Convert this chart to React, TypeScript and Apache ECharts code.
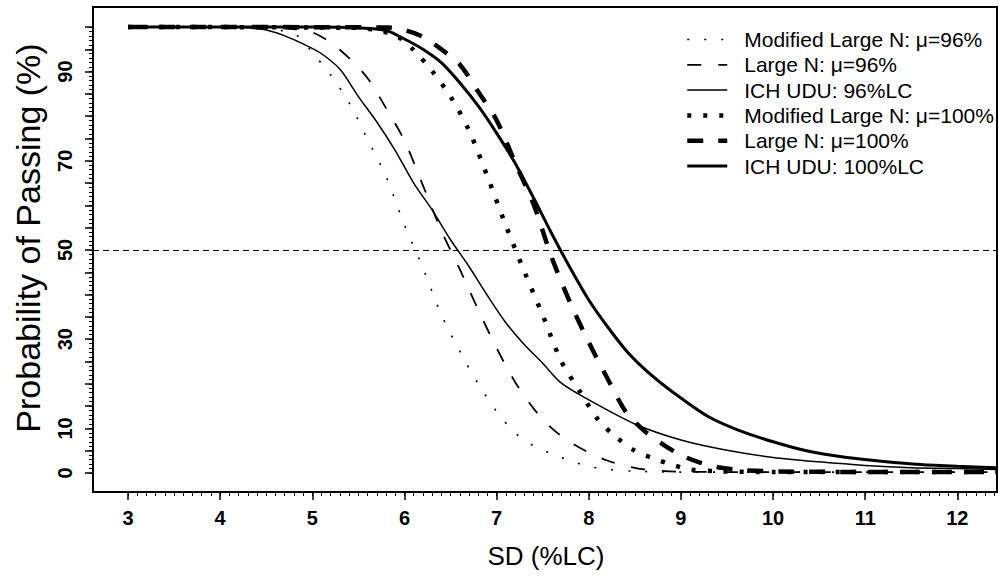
import React, { useEffect, useRef } from "react";
import * as echarts from "echarts";

// ---- data ----
const sdModLarge96 = [3.0, 4.0, 4.5, 4.8, 4.9, 5.0, 5.2, 5.4, 5.6, 5.8, 6.0, 6.2, 6.4, 6.6, 6.8, 7.0, 7.2, 7.4, 7.6, 7.8, 8.0, 8.2, 8.5, 9.0, 10.0, 12.43];
const pModLarge96 = [100, 100, 99.7, 98.5, 96.8, 94.3, 89.2, 83, 74.8, 66.5, 55.6, 46, 35.5, 27.3, 20, 13.8, 9, 6.1, 4.3, 2.7, 1.5, 0.8, 0.4, 0.2, 0.2, 0.2];

const sdLarge96 = [3.0, 4.5, 4.8, 5.0, 5.2, 5.4, 5.6, 5.8, 6.0, 6.2, 6.4, 6.6, 6.8, 7.0, 7.2, 7.4, 7.6, 7.8, 8.0, 8.2, 8.4, 8.6, 9.0, 10.0, 12.43];
const pLarge96 = [100, 100, 99.5, 98.8, 96.5, 93, 88.5, 81.8, 74.5, 64.5, 54.3, 45.7, 36.6, 28, 20.4, 14.5, 10, 6.9, 4.6, 2.8, 1.6, 0.8, 0.3, 0.2, 0.2];

const sdIch96 = [3.0, 4.0, 4.3, 4.5, 4.7, 4.9, 5.1, 5.3, 5.5, 5.7, 5.9, 6.1, 6.3, 6.5, 6.7, 6.9, 7.1, 7.3, 7.5, 7.7, 8.0, 8.5, 9.0, 9.5, 10.0, 10.5, 11.0, 11.5, 12.0, 12.43];
const pIch96 = [100, 100, 99.8, 99.3, 98, 96.2, 94, 90.5, 84.4, 78.7, 72.3, 65, 59, 52.3, 46.3, 39.8, 33.7, 28.8, 24.6, 20.2, 16.4, 11, 7.4, 5.1, 3.5, 2.5, 1.7, 1.2, 1.0, 0.8];

const sdModLarge100 = [3.0, 5.5, 5.7, 5.9, 6.1, 6.3, 6.5, 6.7, 6.9, 7.1, 7.3, 7.5, 7.7, 7.9, 8.1, 8.3, 8.5, 8.7, 8.9, 9.1, 9.4, 10.0, 12.43];
const pModLarge100 = [100, 99.8, 99.2, 98.2, 94.8, 90.1, 84.4, 76.8, 66.5, 55.5, 45.2, 35.4, 25.1, 18.4, 12, 8, 5, 3.3, 1.9, 0.8, 0.4, 0.2, 0.2];

const sdLarge100 = [3.0, 5.8, 6.0, 6.2, 6.4, 6.6, 6.8, 7.0, 7.2, 7.4, 7.6, 7.8, 8.0, 8.2, 8.4, 8.6, 8.8, 9.0, 9.2, 9.4, 9.7, 10.2, 12.43];
const pLarge100 = [100, 99.9, 99.3, 97.8, 95, 91.6, 85.5, 79.1, 69.6, 60.3, 48.2, 38.1, 29.3, 21.3, 13.8, 9.5, 6.5, 4, 2.4, 1.3, 0.6, 0.3, 0.2];

const sdIch100 = [3.0, 5.0, 5.5, 5.8, 6.0, 6.2, 6.4, 6.6, 6.8, 7.0, 7.2, 7.4, 7.6, 7.8, 8.0, 8.2, 8.4, 8.6, 8.8, 9.0, 9.3, 9.6, 10.0, 10.4, 10.8, 11.2, 11.6, 12.0, 12.43];
const pIch100 = [100, 100, 99.8, 99.2, 97.3, 95, 92, 87.5, 82.3, 76.2, 69.5, 61.7, 53.6, 45.9, 38.8, 32.9, 27.6, 23.4, 19.9, 16.8, 12.6, 9.8, 7.0, 4.8, 3.5, 2.6, 1.9, 1.5, 1.2];

const seriesNames = [
  "Modified Large N: \u03bc=96%",
  "Large N: \u03bc=96%",
  "ICH UDU: 96%LC",
  "Modified Large N: \u03bc=100%",
  "Large N: \u03bc=100%",
  "ICH UDU: 100%LC",
];

const xTickLabels = [3, 4, 5, 6, 7, 8, 9, 10, 11, 12];
const yTickLabels = [0, 10, 30, 50, 70, 90];
const referenceLevel = 50;

const zip = (xs: number[], ys: number[]) => xs.map((x, i) => [x, ys[i]]);

export default function App() {
  const ref = useRef<HTMLDivElement>(null);

  useEffect(() => {
    document.body.style.margin = "0";
    const chart = echarts.init(ref.current!, null, { renderer: "svg" });

    const xMinorTicks: number[] = [];
    for (let i = 30; i <= 124; i++) xMinorTicks.push(i / 10);
    const yMajorTicks: number[] = [];
    for (let i = 0; i <= 100; i += 5) yMajorTicks.push(i);
    const yMinorTicks: number[] = [];
    for (let i = 0; i <= 100; i++) yMinorTicks.push(i);

    const tickFont = '"Liberation Sans Narrow", "Arial Narrow", "Liberation Sans", Arial, sans-serif';
    const textFont = '"Liberation Sans", Arial, sans-serif';
    const xMin = 2.62, xMax = 12.43, yMin = -4.26, yMax = 104.48;
    const clear = "rgba(0,0,0,0)";

    const styles: any[] = [
      { width: 1.6, type: [2, 15] },
      { width: 1.8, type: [14, 17] },
      { width: 1.5, type: "solid" },
      { width: 4.5, type: [4, 12] },
      { width: 4.5, type: [16, 15] },
      { width: 3, type: "solid" },
    ];
    const dataSets = [
      zip(sdModLarge96, pModLarge96),
      zip(sdLarge96, pLarge96),
      zip(sdIch96, pIch96),
      zip(sdModLarge100, pModLarge100),
      zip(sdLarge100, pLarge100),
      zip(sdIch100, pIch100),
    ];

    const series: any[] = dataSets.map((d, i) => ({
      name: seriesNames[i],
      type: "line",
      data: d,
      xAxisIndex: 0,
      yAxisIndex: 0,
      symbol: "none",
      smooth: 0.3,
      lineStyle: { color: "#000", width: styles[i].width, type: styles[i].type },
      itemStyle: { color: clear, borderColor: clear, borderWidth: 0 },
    }));
    series[0].markLine = {
      silent: true,
      symbol: ["none", "none"],
      label: { show: false },
      lineStyle: { color: "#000", width: 1.2, type: [6, 4] },
      data: [{ yAxis: referenceLevel }],
    };

    chart.setOption({
      animation: false,
      backgroundColor: "#fff",
      grid: { left: 93, right: 2, top: 7, bottom: 85, show: true, borderColor: "#000", borderWidth: 2, containLabel: false },
      legend: {
        orient: "vertical",
        left: 680,
        top: 24,
        itemWidth: 40,
        itemHeight: 14,
        itemGap: 4.3,
        data: seriesNames,
        itemStyle: { opacity: 0 },
        lineStyle: { width: "inherit" },
        textStyle: { fontFamily: textFont, fontSize: 21, color: "#000", padding: [0, 0, 0, 12] },
      },
      xAxis: [
        {
          type: "value", min: xMin, max: xMax, position: "bottom",
          axisLine: { show: true, onZero: false, lineStyle: { color: "#000", width: 2 } },
          axisTick: { show: true, customValues: xTickLabels, length: 8, lineStyle: { color: "#000", width: 1.5 } },
          axisLabel: { customValues: xTickLabels, margin: 16, fontSize: 20, fontWeight: "bold", color: "#000", fontFamily: tickFont },
          splitLine: { show: false },
        },
        {
          type: "value", min: xMin, max: xMax, position: "bottom",
          axisLine: { show: true, onZero: false, lineStyle: { color: clear, width: 0 } },
          axisTick: { show: true, customValues: xMinorTicks, length: 4, lineStyle: { color: "#000", width: 1 } },
          axisLabel: { show: true, customValues: xTickLabels, color: clear, formatter: () => "" },
          splitLine: { show: false },
        },
      ],
      yAxis: [
        {
          type: "value", min: yMin, max: yMax, position: "left",
          axisLine: { show: true, onZero: false, lineStyle: { color: "#000", width: 2 } },
          axisTick: { show: true, customValues: yMajorTicks, length: 8, lineStyle: { color: "#000", width: 1.5 } },
          axisLabel: { customValues: yTickLabels, rotate: 90, margin: 18, fontSize: 20, fontWeight: "bold", color: "#000", fontFamily: tickFont },
          splitLine: { show: false },
        },
        {
          type: "value", min: yMin, max: yMax, position: "left",
          axisLine: { show: true, onZero: false, lineStyle: { color: clear, width: 0 } },
          axisTick: { show: true, customValues: yMinorTicks, length: 4, lineStyle: { color: "#000", width: 1 } },
          axisLabel: { show: true, customValues: yTickLabels, color: clear, formatter: () => "" },
          splitLine: { show: false },
        },
      ],
      graphic: [
        {
          type: "text", x: 546, y: 556,
          style: { text: "SD (%LC)", fontSize: 26, fontFamily: textFont, fill: "#000", align: "center", verticalAlign: "middle" },
        },
        {
          type: "text", x: 28, y: 238, rotation: Math.PI / 2,
          style: { text: "Probability of Passing (%)", fontSize: 34, fontFamily: textFont, fill: "#000", align: "center", verticalAlign: "middle" },
        },
      ],
      series,
    });

    return () => chart.dispose();
  }, []);

  return <div ref={ref} style={{ width: 999, height: 577 }} />;
}
